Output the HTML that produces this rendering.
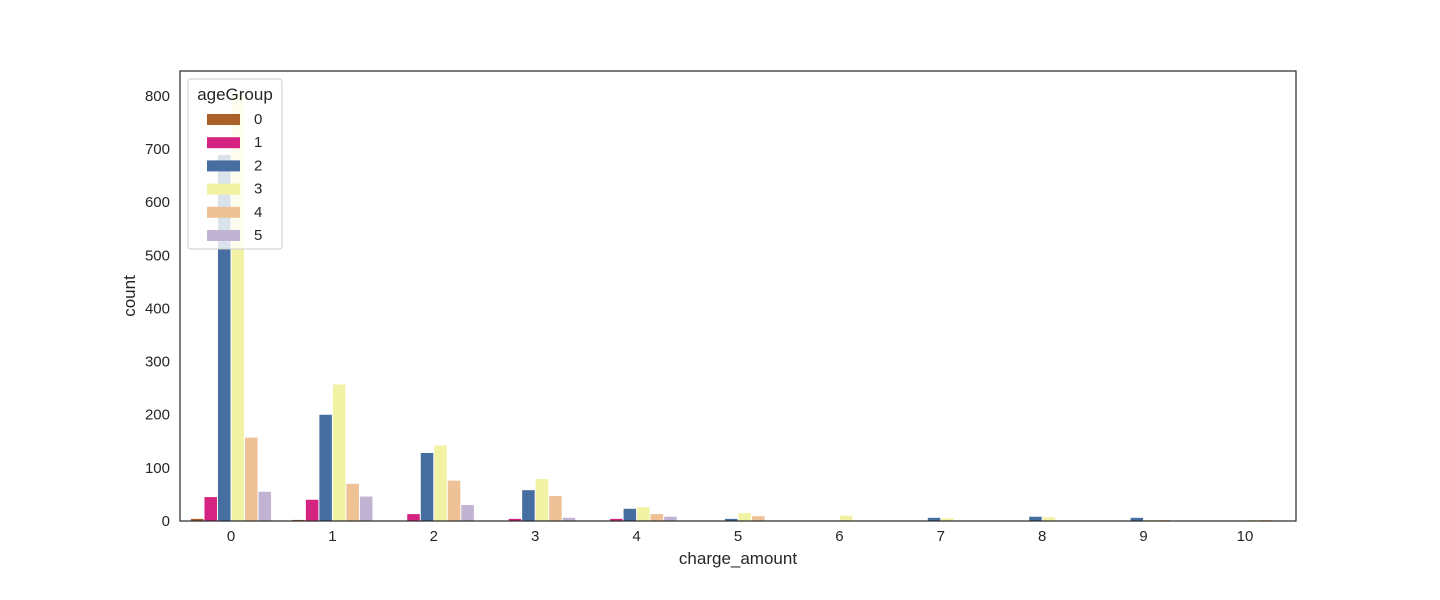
<!DOCTYPE html>
<html><head><meta charset="utf-8"><style>
body{margin:0;background:#fff;}
text{font-family:"Liberation Sans",Arial,sans-serif;fill:#262626;}
</style></head><body>
<svg id="chart" width="1440" height="595" xmlns="http://www.w3.org/2000/svg">
<rect width="1440" height="595" fill="#fff"/>
<g id="bars"></g>
<g id="axes"></g>
<g id="legend"></g>
</svg>
<script>
const categories=[0,1,2,3,4,5,6,7,8,9,10];
const ageGroups=["0","1","2","3","4","5"];
const age0=[4,2,0,0,0,0,0,0,0,0,0];
const age1=[45,40,13,4,4,0,0,0,0,0,0];
const age2=[689,200,128,58,23,4,0,6,8,6,0];
const age3=[805,257,142,79,26,15,10,5,7,2,2];
const age4=[157,70,76,47,13,9,0,0,0,2,2];
const age5=[55,46,30,6,8,0,0,0,0,0,0];
const yTicks=[0,100,200,300,400,500,600,700,800];
const series=[age0,age1,age2,age3,age4,age5];
const colors=["#ab5f29","#d42381","#466ea0","#f2f2a5","#eec196","#c1b3d2"];
const NS="http://www.w3.org/2000/svg";
const L=180,R=1296,T=71,B=521;
const xc=i=>231+i*101.4;
const ys=v=>B-v*0.5313;
const bw=101.4*0.8/6;
function mk(t,a,p){const e=document.createElementNS(NS,t);for(const k in a)e.setAttribute(k,a[k]);p.appendChild(e);return e;}
const bars=document.getElementById('bars');
series.forEach((s,j)=>{s.forEach((v,i)=>{
 if(v<=0)return;
 const x=xc(i)-101.4*0.4+j*bw;
 const r=mk('rect',{x:x+0.5,y:ys(v),width:bw-1,height:B-ys(v),fill:colors[j]},bars);
 
 
});});
const ax=document.getElementById('axes');
mk('rect',{x:L,y:T,width:R-L,height:B-T,fill:'none',stroke:'#262626','stroke-width':1.2},ax);
yTicks.forEach(v=>{const t=mk('text',{x:170,y:ys(v)+5,'text-anchor':'end','font-size':15},ax);t.textContent=v;
 });
categories.forEach((c,i)=>{const t=mk('text',{x:xc(i),y:541,'text-anchor':'middle','font-size':15},ax);t.textContent=c;
 });
let t=mk('text',{x:738,y:564,'text-anchor':'middle','font-size':17},ax);t.textContent='charge_amount';

t=mk('text',{x:135,y:296,'text-anchor':'middle','font-size':17,transform:'rotate(-90 135 296)'},ax);t.textContent='count';

const lg=document.getElementById('legend');
const box=mk('rect',{x:188,y:79,width:94,height:170,rx:3,fill:'#fff','fill-opacity':0.8,stroke:'#ccc'},lg);

t=mk('text',{x:235,y:100,'text-anchor':'middle','font-size':17},lg);t.textContent='ageGroup';

ageGroups.forEach((g,j)=>{const y=119+j*23.2;
 const g2=mk('g',{},lg);
 mk('rect',{x:207,y:y-5,width:33,height:11,fill:colors[j]},g2);
 const tx=mk('text',{x:254,y:y+5,'font-size':15},g2);tx.textContent=g;});
</script>
</body></html>
